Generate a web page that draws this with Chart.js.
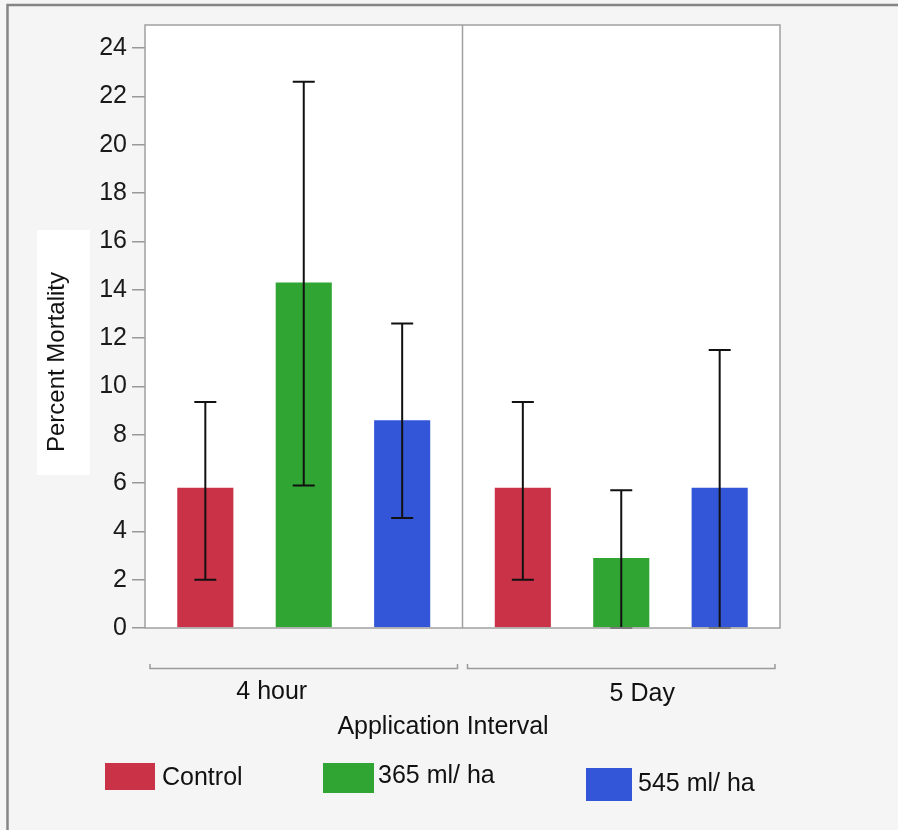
<!DOCTYPE html>
<html>
<head>
<meta charset="utf-8">
<script src="https://cdn.jsdelivr.net/npm/chart.js@4.4.1/dist/chart.umd.min.js"></script>
<style>
  body { margin: 0; background: #f5f5f5; }
  canvas { display: block; }
</style>
</head>
<body>
<canvas id="myCanvas" width="898" height="830"></canvas>
<script>
 // data
 var categories = ['4 hour', '5 Day'];
 var seriesNames = ['Control', '365 ml/ ha', '545 ml/ ha'];
 var seriesColors = ['#c93247', '#30a534', '#3355d8'];
 var control = [5.8, 5.8];
 var controlLow = [2.0, 2.0];
 var controlHigh = [9.35, 9.35];
 var dose365 = [14.3, 2.9];
 var dose365Low = [5.9, 0];
 var dose365High = [22.6, 5.7];
 var dose545 = [8.6, 5.8];
 var dose545Low = [4.55, 0];
 var dose545High = [12.6, 11.5];
 var yTicks = [0, 2, 4, 6, 8, 10, 12, 14, 16, 18, 20, 22, 24];

 var values = [control, dose365, dose545];
 var lows = [controlLow, dose365Low, dose545Low];
 var highs = [controlHigh, dose365High, dose545High];

 var FONT = '"Liberation Sans", Arial, sans-serif';

 // background, frame, white plot area
 var backdrop = {
    id: 'backdrop',
    beforeDraw: function(chart){
        var ctx = chart.ctx, a = chart.chartArea;
        ctx.save();
        ctx.fillStyle = '#f5f5f5';
        ctx.fillRect(0, 0, chart.width, chart.height);
        ctx.strokeStyle = '#858585';
        ctx.lineWidth = 2.5;
        ctx.beginPath();
        ctx.moveTo(chart.width, 5);
        ctx.lineTo(7.5, 5);
        ctx.lineTo(7.5, chart.height);
        ctx.stroke();
        ctx.fillStyle = '#ffffff';
        ctx.fillRect(a.left, a.top, a.right - a.left, a.bottom - a.top);
        // white box behind the y title
        ctx.fillRect(37, 230, 53, 245);
        ctx.restore();
    }
 };

 // error bars, divider, border, brackets, labels, legend
 var extras = {
    id: 'extras',
    afterDatasetsDraw: function(chart){
        var ctx = chart.ctx, a = chart.chartArea;
        var ys = chart.scales.y, xs = chart.scales.x;
        ctx.save();
        ctx.strokeStyle = '#111';
        ctx.lineWidth = 2;
        values.forEach(function(v, i){
            var meta = chart.getDatasetMeta(i);
            meta.data.forEach(function(bar, j){
                var x = bar.x;
                var y1 = ys.getPixelForValue(lows[i][j]);
                var y2 = ys.getPixelForValue(highs[i][j]);
                ctx.beginPath();
                ctx.moveTo(x, y1); ctx.lineTo(x, y2);
                ctx.moveTo(x - 11, y1); ctx.lineTo(x + 11, y1);
                ctx.moveTo(x - 11, y2); ctx.lineTo(x + 11, y2);
                ctx.stroke();
            });
        });

        // divider between groups and plot frame
        ctx.strokeStyle = '#a0a0a0';
        ctx.lineWidth = 1.5;
        var mid = xs.getPixelForValue(0.5);
        ctx.beginPath();
        ctx.moveTo(mid, a.top); ctx.lineTo(mid, a.bottom);
        ctx.stroke();
        ctx.strokeRect(a.left, a.top, a.right - a.left, a.bottom - a.top);

        // group brackets and labels
        var edges = [a.left, mid, a.right];
        var labelShift = [-32, 21];
        ctx.strokeStyle = '#9a9a9a';
        ctx.lineWidth = 1.5;
        ctx.fillStyle = '#111';
        ctx.font = '25px ' + FONT;
        ctx.textAlign = 'center';
        ctx.textBaseline = 'middle';
        categories.forEach(function(c, i){
            var l = edges[i] + 5, r = edges[i + 1] - 5;
            ctx.beginPath();
            ctx.moveTo(l, 664); ctx.lineTo(l, 668.5);
            ctx.lineTo(r, 668.5); ctx.lineTo(r, 664);
            ctx.stroke();
            ctx.fillText(c, xs.getPixelForValue(i) + labelShift[i], 692 + i * 2);
        });
        ctx.fillText('Application Interval', 443, 727);

        // y title
        ctx.save();
        ctx.translate(57, 362);
        ctx.rotate(-Math.PI / 2);
        ctx.font = '24px ' + FONT;
        ctx.fillText('Percent Mortality', 0, 0);
        ctx.restore();

        // legend
        var boxes = [
            {x: 105, y: 763, w: 50, h: 27, tx: 162, ty: 778},
            {x: 323, y: 763, w: 51, h: 30, tx: 378, ty: 776},
            {x: 586, y: 768, w: 46, h: 33, tx: 638, ty: 784}
        ];
        ctx.textAlign = 'left';
        ctx.font = '25px ' + FONT;
        seriesNames.forEach(function(n, i){
            var b = boxes[i];
            ctx.fillStyle = seriesColors[i];
            ctx.fillRect(b.x, b.y, b.w, b.h);
            ctx.fillStyle = '#111';
            ctx.fillText(n, b.tx, b.ty);
        });
        ctx.restore();
    }
 };

 function makeChart(){
    var datasets = [];
    seriesNames.forEach(function(n, i){
        datasets.push({
            label: n,
            data: values[i],
            backgroundColor: seriesColors[i],
            borderWidth: 0,
            categoryPercentage: 0.93,
            barPercentage: 0.57
        });
    });
    var config = {
        type: 'bar',
        data: { labels: categories, datasets: datasets },
        options: {
            responsive: false,
            animation: false,
            layout: { padding: { left: 0, top: 25, right: 118, bottom: 202 } },
            plugins: {
                legend: { display: false },
                tooltip: { enabled: false }
            },
            scales: {
                x: { display: false },
                y: {
                    min: 0,
                    max: 24.95,
                    afterBuildTicks: function(s){
                        s.ticks = yTicks.map(function(v){ return {value: v}; });
                    },
                    afterFit: function(s){ s.width = 145; },
                    border: { display: false },
                    grid: {
                        drawOnChartArea: false,
                        drawTicks: true,
                        tickLength: 13,
                        color: '#999',
                        lineWidth: 1.5
                    },
                    ticks: {
                        padding: 5,
                        color: '#1a1a1a',
                        font: { family: FONT, size: 25 }
                    }
                }
            }
        },
        plugins: [backdrop, extras]
    };
    new Chart(document.getElementById('myCanvas'), config);
 }
 makeChart();
</script>
</body>
</html>
